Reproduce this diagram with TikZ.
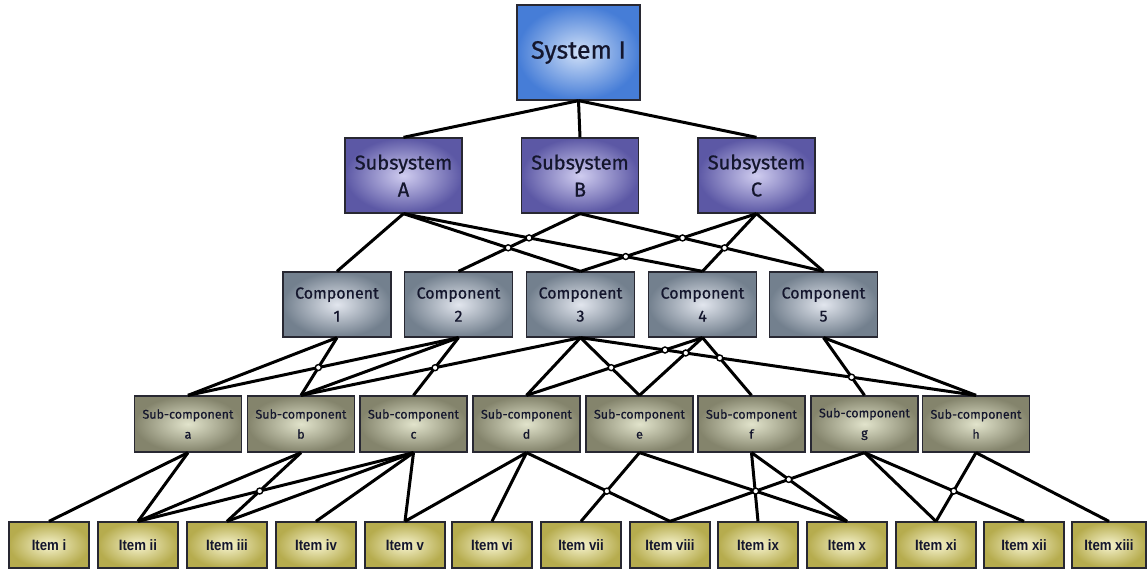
\documentclass[tikz,border=0pt]{standalone}
\usepackage{fontspec}
\setmainfont[FakeBold=0.7]{Fira Sans}
\newfontfamily\subfont[FakeBold=0.5]{Fira Sans}
\newfontfamily\itemfont[FakeStretch=0.88]{Liberation Sans Bold}

\definecolor{edgeclr}{RGB}{40,40,50}
\definecolor{txtclr}{RGB}{20,22,45}
\definecolor{sysout}{RGB}{70,125,215}
\definecolor{sysin}{RGB}{208,224,248}
\definecolor{ssout}{RGB}{92,88,165}
\definecolor{ssin}{RGB}{208,205,240}
\definecolor{cpout}{RGB}{115,128,142}
\definecolor{cpin}{RGB}{226,230,238}
\definecolor{scout}{RGB}{132,132,108}
\definecolor{scin}{RGB}{226,228,204}
\definecolor{itout}{RGB}{182,172,78}
\definecolor{itin}{RGB}{246,243,205}

\tikzset{
  box/.style={draw=edgeclr, line width=1.3pt, rectangle, inner sep=0pt,
    align=center, text=txtclr},
  sysbox/.style={box, minimum width=123, minimum height=95,
    inner color=sysin, outer color=sysout,
    font=\fontsize{25}{28}\selectfont},
  ssbox/.style={box, minimum width=117, minimum height=75,
    inner color=ssin, outer color=ssout,
    font=\fontsize{20}{27}\selectfont},
  cpbox/.style={box, minimum width=108, minimum height=65,
    inner color=cpin, outer color=cpout,
    font=\fontsize{16}{23}\selectfont},
  scbox/.style={box, minimum width=107, minimum height=56,
    inner color=scin, outer color=scout,
    font=\subfont\fontsize{12.5}{20}\selectfont},
  itbox/.style={box, minimum width=80, minimum height=46,
    inner color=itin, outer color=itout,
    font=\itemfont\fontsize{15}{17}\selectfont},
  link/.style={draw=black, line width=3pt},
  hopmark/.style={draw=black, fill=white, line width=1.4pt},
}

\newcommand\hop[4]{%
  \draw[hopmark] (intersection of #1.south--#2.north and #3.south--#4.north) circle[radius=3];}

\begin{document}
\begin{tikzpicture}[x=1pt,y=-1pt]
\useasboundingbox[fill=white] (0,0) rectangle (1148,573);

% top level
\node[sysbox] (sys) at (578.5,52.5) {System I};

% subsystems
\node[ssbox] (ssA) at (403.5,175.5) {Subsystem\\A};
\node[ssbox] (ssB) at (580,175.5) {Subsystem\\B};
\node[ssbox] (ssC) at (756.5,175.5) {Subsystem\\C};

% components
\foreach \i/\x in {1/337,2/458.5,3/580.5,4/702.5,5/823.5}
  \node[cpbox] (cp\i) at (\x,304.5) {Component\\\i};

% sub-components
\foreach \n/\x in {a/188,b/301,c/413.5,d/526.5,e/639.5,f/751.5,g/864.5,h/976}
  \node[scbox] (sc\n) at (\x,424) {Sub-component\\\n};

% items
\foreach \i/\x/\t in {1/49/i,2/138/ii,3/227/iii,4/316/iv,5/405/v,6/492/vi,
  7/581/vii,8/670/viii,9/758/ix,10/847/x,11/936/xi,12/1024/xii}
  \node[itbox] (it\i) at (\x,545) {Item \t};
\node[itbox, minimum width=74] (it13) at (1109,545) {Item xiii};

% connectors
\foreach \p/\q in {sys/ssA, sys/ssB, sys/ssC,
  ssA/cp1, ssA/cp3, ssA/cp4, ssB/cp2, ssB/cp5, ssC/cp3, ssC/cp4, ssC/cp5,
  cp1/sca, cp1/scb, cp2/sca, cp2/scb, cp2/scc, cp3/scb, cp3/scd, cp3/sce, cp3/sch,
  cp4/scd, cp4/sce, cp4/scf, cp5/scg, cp5/sch,
  sca/it1, sca/it2, scb/it2, scb/it3, scc/it2, scc/it3, scc/it4, scc/it5,
  scd/it5, scd/it6, scd/it8, sce/it7, sce/it10, scf/it9, scf/it10,
  scg/it8, scg/it11, scg/it12, sch/it11, sch/it13}
  \draw[link] (\p.south) -- (\q.north);

% line hops at crossings
\hop{ssA}{cp3}{ssB}{cp2}
\hop{ssA}{cp4}{ssB}{cp2}
\hop{ssA}{cp4}{ssC}{cp3}
\hop{ssB}{cp5}{ssC}{cp3}
\hop{ssB}{cp5}{ssC}{cp4}
\hop{cp1}{scb}{cp2}{sca}
\hop{cp3}{scb}{cp2}{scc}
\hop{cp3}{sce}{cp4}{scd}
\hop{cp3}{sch}{cp4}{scd}
\hop{cp3}{sch}{cp4}{sce}
\hop{cp3}{sch}{cp4}{scf}
\hop{cp3}{sch}{cp5}{scg}
\hop{scb}{it3}{scc}{it2}
\hop{scd}{it8}{sce}{it7}
\hop{scg}{it8}{scf}{it10}
\hop{scg}{it8}{sce}{it10}
\hop{scg}{it12}{sch}{it11}
\end{tikzpicture}
\end{document}
